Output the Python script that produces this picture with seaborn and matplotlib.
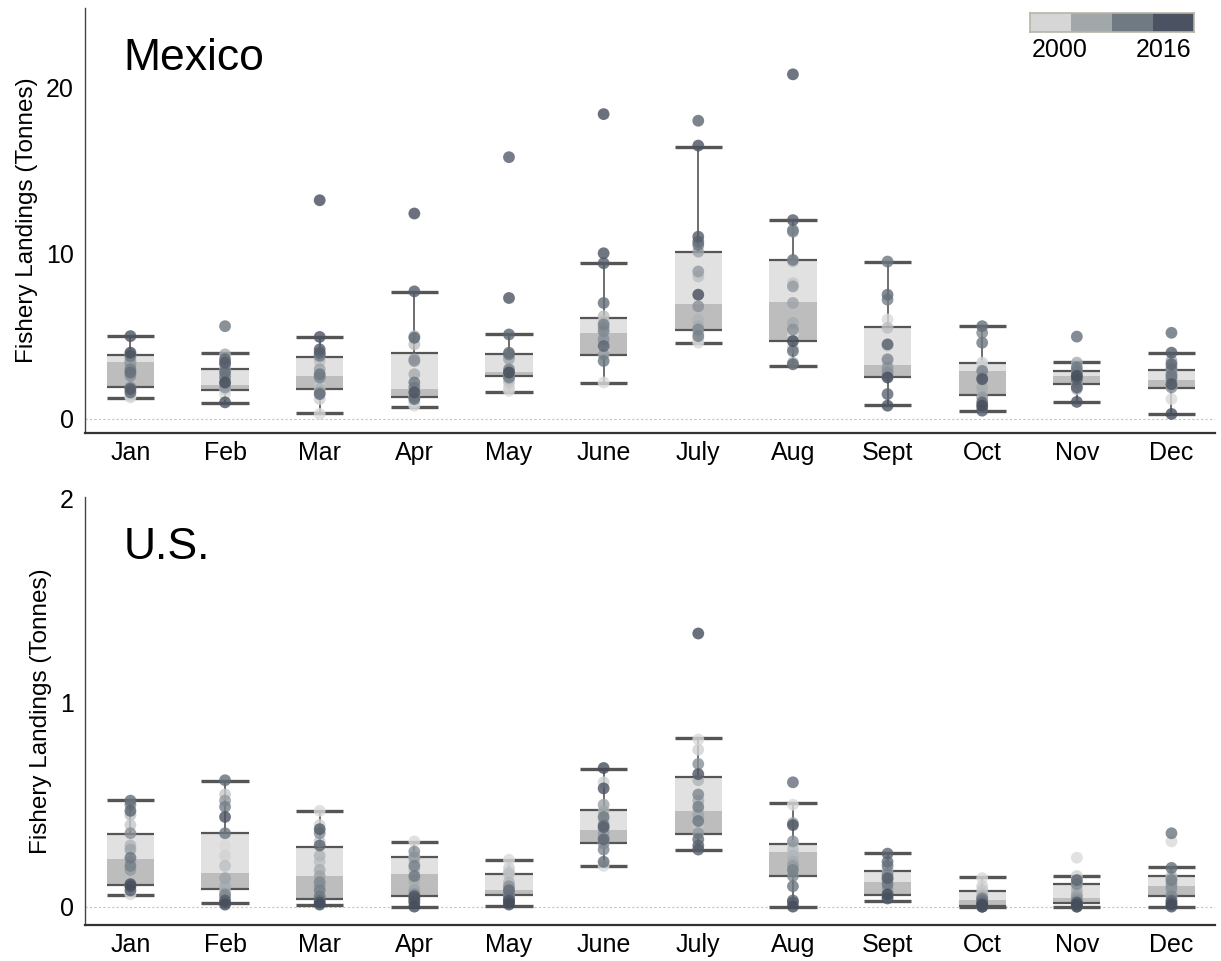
import numpy as np
import pandas as pd
import matplotlib
matplotlib.use("Agg")
import matplotlib.pyplot as plt
import seaborn as sns

months = ["Jan", "Feb", "Mar", "Apr", "May", "June", "July", "Aug", "Sept", "Oct", "Nov", "Dec"]
years = list(range(2000, 2017))

# ---------------------------------------------------------------------------
# Mexico: landings per month, one value per year (2000..2016)
mx_jan = [1.3, 1.4, 3.9, 3.6, 3.5, 2.9, 3.4, 3.3, 2.6, 1.9, 3.0, 3.8, 2.8, 1.6, 1.8, 5.0, 4.0]
mx_feb = [1.5, 1.8, 2.0, 2.3, 2.6, 3.9, 2.1, 3.0, 1.9, 2.5, 3.3, 5.6, 2.8, 3.6, 3.4, 1.0, 2.2]
mx_mar = [0.3, 1.2, 2.0, 3.5, 1.8, 2.6, 3.0, 1.6, 3.9, 2.5, 3.8, 2.7, 1.5, 4.0, 4.2, 4.95, 13.2]
mx_apr = [0.8, 1.0, 1.4, 4.5, 5.0, 2.7, 1.6, 3.6, 3.5, 1.3, 1.9, 2.2, 1.2, 4.9, 7.7, 1.6, 12.4]
mx_may = [1.7, 1.9, 2.2, 2.4, 3.6, 3.7, 2.7, 2.9, 2.6, 3.0, 2.5, 3.9, 4.0, 5.1, 15.8, 7.3, 2.8]
mx_jun = [2.2, 4.1, 5.9, 6.2, 5.0, 4.6, 5.5, 3.9, 4.8, 5.3, 5.7, 3.5, 7.0, 4.4, 9.4, 10.0, 18.4]
mx_jul = [4.6, 4.8, 5.2, 8.6, 6.0, 5.6, 10.1, 8.9, 6.8, 5.4, 5.0, 10.5, 10.7, 18.0, 11.0, 16.5, 7.5]
mx_aug = [5.1, 4.3, 8.2, 9.5, 3.4, 5.8, 7.0, 8.0, 5.4, 11.3, 11.4, 9.6, 4.1, 3.3, 12.0, 20.8, 4.7]
mx_sep = [6.0, 4.4, 3.4, 5.5, 2.9, 3.0, 2.6, 3.1, 2.8, 3.6, 7.2, 9.5, 7.5, 1.5, 4.5, 0.8, 2.5]
mx_oct = [3.2, 3.4, 2.8, 2.3, 1.6, 1.9, 0.7, 1.3, 2.5, 5.2, 2.9, 4.6, 5.6, 1.0, 0.5, 2.4, 0.8]
mx_nov = [2.3, 2.5, 2.7, 2.0, 1.8, 3.4, 2.6, 2.2, 2.9, 2.8, 2.5, 3.1, 4.97, 2.4, 1.9, 1.03, 2.6]
mx_dec = [1.2, 2.2, 3.1, 2.5, 2.0, 2.9, 3.5, 2.7, 1.9, 2.4, 3.0, 2.6, 5.2, 3.3, 4.0, 2.1, 0.3]

# box summaries: lower whisker, Q1, median, Q3, upper whisker
mx_lo  = [1.25, 0.97, 0.36, 0.73, 1.63, 2.15, 4.57, 3.22, 0.82, 0.50, 1.03, 0.30]
mx_q1  = [1.91, 1.73, 1.83, 1.31, 2.58, 3.85, 5.38, 4.71, 2.54, 1.45, 2.13, 1.89]
mx_med = [3.43, 2.05, 2.62, 1.83, 2.86, 5.16, 6.91, 7.07, 3.26, 2.90, 2.60, 2.37]
mx_q3  = [3.87, 3.04, 3.71, 4.01, 3.95, 6.12, 10.05, 9.59, 5.52, 3.40, 2.88, 2.96]
mx_hi  = [5.03, 3.97, 4.95, 7.67, 5.12, 9.41, 16.43, 11.98, 9.47, 5.64, 3.44, 3.97]

# U.S.
us_jan = [0.06, 0.10, 0.40, 0.45, 0.30, 0.22, 0.28, 0.18, 0.36, 0.50, 0.20, 0.24, 0.52, 0.47, 0.08, 0.10, 0.11]
us_feb = [0.30, 0.25, 0.55, 0.20, 0.08, 0.10, 0.14, 0.52, 0.05, 0.06, 0.49, 0.36, 0.62, 0.02, 0.03, 0.44, 0.01]
us_mar = [0.47, 0.40, 0.32, 0.22, 0.25, 0.18, 0.15, 0.10, 0.36, 0.12, 0.08, 0.05, 0.03, 0.30, 0.38, 0.02, 0.01]
us_apr = [0.32, 0.25, 0.22, 0.18, 0.10, 0.13, 0.08, 0.24, 0.27, 0.06, 0.20, 0.15, 0.04, 0.03, 0.02, 0.05, 0.0]
us_may = [0.23, 0.19, 0.17, 0.16, 0.12, 0.09, 0.08, 0.07, 0.10, 0.06, 0.05, 0.04, 0.08, 0.03, 0.03, 0.02, 0.01]
us_jun = [0.20, 0.61, 0.42, 0.38, 0.47, 0.34, 0.50, 0.36, 0.31, 0.28, 0.40, 0.44, 0.22, 0.33, 0.39, 0.58, 0.68]
us_jul = [0.82, 0.77, 0.40, 0.47, 0.62, 0.52, 0.45, 0.36, 0.70, 0.55, 0.49, 0.42, 0.33, 0.30, 0.28, 0.65, 1.34]
us_aug = [0.50, 0.30, 0.27, 0.28, 0.25, 0.22, 0.41, 0.20, 0.32, 0.15, 0.18, 0.10, 0.61, 0.03, 0.02, 0.40, 0.0]
us_sep = [0.10, 0.12, 0.15, 0.18, 0.08, 0.07, 0.13, 0.09, 0.05, 0.16, 0.20, 0.11, 0.22, 0.26, 0.14, 0.04, 0.06]
us_oct = [0.14, 0.10, 0.08, 0.06, 0.05, 0.04, 0.03, 0.02, 0.01, 0.0, 0.04, 0.03, 0.02, 0.01, 0.0, 0.0, 0.01]
us_nov = [0.24, 0.15, 0.10, 0.12, 0.08, 0.06, 0.05, 0.04, 0.03, 0.11, 0.02, 0.01, 0.0, 0.13, 0.02, 0.0, 0.01]
us_dec = [0.32, 0.12, 0.15, 0.10, 0.08, 0.14, 0.06, 0.11, 0.09, 0.05, 0.13, 0.36, 0.19, 0.03, 0.02, 0.0, 0.01]

us_lo  = [0.059, 0.016, 0.010, 0.000, 0.005, 0.200, 0.279, 0.000, 0.029, 0.000, 0.000, 0.000]
us_q1  = [0.105, 0.087, 0.038, 0.051, 0.056, 0.314, 0.355, 0.149, 0.056, 0.005, 0.020, 0.051]
us_med = [0.235, 0.167, 0.150, 0.162, 0.082, 0.376, 0.467, 0.266, 0.121, 0.034, 0.044, 0.101]
us_q3  = [0.355, 0.363, 0.294, 0.245, 0.158, 0.472, 0.637, 0.306, 0.173, 0.075, 0.111, 0.152]
us_hi  = [0.523, 0.616, 0.469, 0.317, 0.230, 0.676, 0.825, 0.506, 0.261, 0.145, 0.150, 0.193]

legend_colors = ["#d6d6d6", "#a2a7aa", "#6f7a82", "#4b5262"]

#-----------------------------------------------------------------------------

def make_frame(cols):
    rows = []
    for m, vals in zip(months, cols):
        for yr, v in zip(years, vals):
            rows.append((m, yr, v))
    return pd.DataFrame(rows, columns=["month", "year", "landings"])

def draw_panel(ax, df, lo, q1, med, q3, hi, title, ylim, yticks):
    x = np.arange(len(months))
    w = 0.5
    line_c = "#555555"
    # two-tone boxes: Q1->median darker, median->Q3 lighter
    ax.bar(x, np.array(q3) - np.array(med), bottom=med, width=w, color="#e1e1e1", linewidth=0, zorder=1)
    ax.bar(x, np.array(med) - np.array(q1), bottom=q1, width=w, color="#bdbdbd", linewidth=0, zorder=1)
    ax.hlines(q1, x - w/2, x + w/2, color=line_c, lw=1.6, zorder=2)
    ax.hlines(q3, x - w/2, x + w/2, color=line_c, lw=1.6, zorder=2)
    ax.vlines(x, q3, hi, color=line_c, lw=1.2, zorder=2)
    ax.vlines(x, lo, q1, color=line_c, lw=1.2, zorder=2)
    ax.hlines(hi, x - w/2, x + w/2, color=line_c, lw=2.4, zorder=2)
    ax.hlines(lo, x - w/2, x + w/2, color=line_c, lw=2.4, zorder=2)

    pal = sns.blend_palette(["#dadada", "#a4a9ad", "#6f7a83", "#454c5b"], len(years))
    sns.stripplot(data=df, x="month", y="landings", hue="year", order=months,
                  palette=pal, jitter=False, size=8.5, alpha=0.8, linewidth=0,
                  legend=False, ax=ax, zorder=3)

    ax.axhline(0, ls=(0, (2, 2)), color="#c4c4c4", lw=0.8, zorder=0)
    ax.set_xlim(-0.48, 11.46)
    ax.set_ylim(*ylim)
    ax.set_yticks(yticks)
    ax.set_xlabel("")
    ax.set_ylabel("Fishery Landings (Tonnes)", fontsize=17.5, labelpad=6, color="black")
    ax.tick_params(axis="both", length=0, labelsize=18, colors="black")
    ax.tick_params(axis="x", pad=6)
    ax.tick_params(axis="y", pad=8)
    ax.set_xticks(np.arange(0.5, 11.5, 1), minor=True)
    ax.tick_params(axis="x", which="minor", length=4, color="#e4e4e4", width=1)
    for s in ["top", "right"]:
        ax.spines[s].set_visible(False)
    ax.spines["left"].set_color("#444444")
    ax.spines["left"].set_linewidth(1.0)
    ax.spines["bottom"].set_color("#333333")
    ax.spines["bottom"].set_linewidth(1.6)
    ax.text(0.034, 0.855, title, transform=ax.transAxes, fontsize=32, va="baseline",
            ha="left", color="black")

#–----------------------------------------------------------------------------

sns.set_style("white")
plt.rcParams["font.family"] = ["Liberation Sans", "DejaVu Sans"]
plt.rcParams["text.color"] = "black"

fig = plt.figure(figsize=(12.21, 9.61), dpi=100)
ax1 = fig.add_axes([0.0696, 0.5494, 0.9255, 0.4422])
ax2 = fig.add_axes([0.0696, 0.0375, 0.9255, 0.4454])

mx = make_frame([mx_jan, mx_feb, mx_mar, mx_apr, mx_may, mx_jun, mx_jul, mx_aug, mx_sep, mx_oct, mx_nov, mx_dec])
us = make_frame([us_jan, us_feb, us_mar, us_apr, us_may, us_jun, us_jul, us_aug, us_sep, us_oct, us_nov, us_dec])

draw_panel(ax1, mx, mx_lo, mx_q1, mx_med, mx_q3, mx_hi, "Mexico", (-0.85, 24.8), [0, 10, 20])
draw_panel(ax2, us, us_lo, us_q1, us_med, us_q3, us_hi, "U.S.", (-0.09, 2.01), [0, 1, 2])

# year legend (four swatches)
lax = fig.add_axes([1030/1221, 1 - 32/961, 164/1221, 19/961])
lax.imshow([np.arange(len(legend_colors))], cmap=matplotlib.colors.ListedColormap(legend_colors), aspect="auto")
lax.set_xticks([])
lax.set_yticks([])
for s in lax.spines.values():
    s.set_color("#b8b4a8")
    s.set_linewidth(1.2)
fig.text(1060/1221, 1 - 50/961, "2000", ha="center", va="center", fontsize=18)
fig.text(1164/1221, 1 - 50/961, "2016", ha="center", va="center", fontsize=18)

fig.savefig("out.png", dpi=100)
